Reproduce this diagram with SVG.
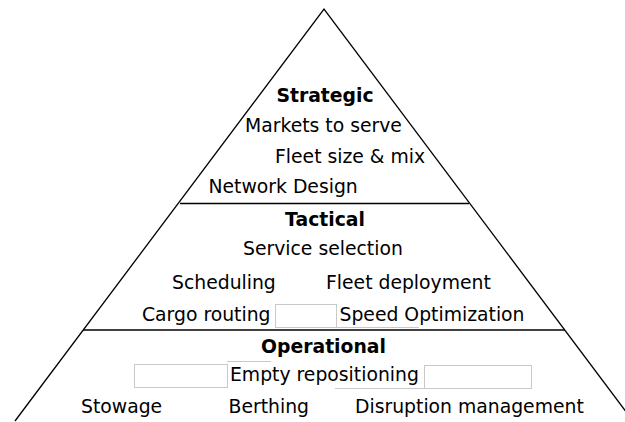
<svg xmlns="http://www.w3.org/2000/svg" width="625" height="422" viewBox="0 0 625 422">
<style>
.t{font-family:"DejaVu Sans",Verdana,sans-serif;font-size:18.8px;fill:#000}
.b{font-weight:bold;text-anchor:middle}
.ln{stroke:#000;stroke-width:1.3;fill:none}
.bx{stroke:#c8c8c8;stroke-width:1;fill:none}
</style>
<rect width="625" height="422" fill="#fff"/>
<g id="connectors">
<path class="ln" d="M15,421 L324,9 L633,421"/>
<line class="ln" x1="180" y1="203.5" x2="469" y2="203.5"/>
<line class="ln" x1="83" y1="330" x2="565" y2="330"/>
</g>
<g id="boxes">
<rect class="bx" x="275.5" y="304.5" width="61" height="23"/>
<line class="bx" x1="337" y1="327.5" x2="419" y2="327.5"/>
<rect class="bx" x="134.5" y="364.5" width="93" height="23"/>
<line class="bx" x1="227" y1="361.5" x2="271" y2="361.5"/>
<rect class="bx" x="424.5" y="365.5" width="107" height="23"/>
<line class="bx" x1="335" y1="388.5" x2="424" y2="388.5"/>
</g>
<g id="strategic">
<text class="t b" x="325" y="102">Strategic</text>
<text class="t" x="245" y="132">Markets to serve</text>
<text class="t" x="275" y="163">Fleet size &amp; mix</text>
<text class="t" x="208.5" y="193">Network Design</text>
</g>
<g id="tactical">
<text class="t b" x="325" y="226">Tactical</text>
<text class="t" x="243" y="255">Service selection</text>
<text class="t" x="172" y="289">Scheduling</text>
<text class="t" x="326" y="289">Fleet deployment</text>
<text class="t" x="142" y="321">Cargo routing</text>
<text class="t" x="339.5" y="321">Speed Optimization</text>
</g>
<g id="operational">
<text class="t b" x="323.5" y="353">Operational</text>
<text class="t" x="230" y="381">Empty repositioning</text>
<text class="t" x="81" y="413">Stowage</text>
<text class="t" x="228.5" y="413">Berthing</text>
<text class="t" x="355" y="413">Disruption management</text>
</g>
</svg>
